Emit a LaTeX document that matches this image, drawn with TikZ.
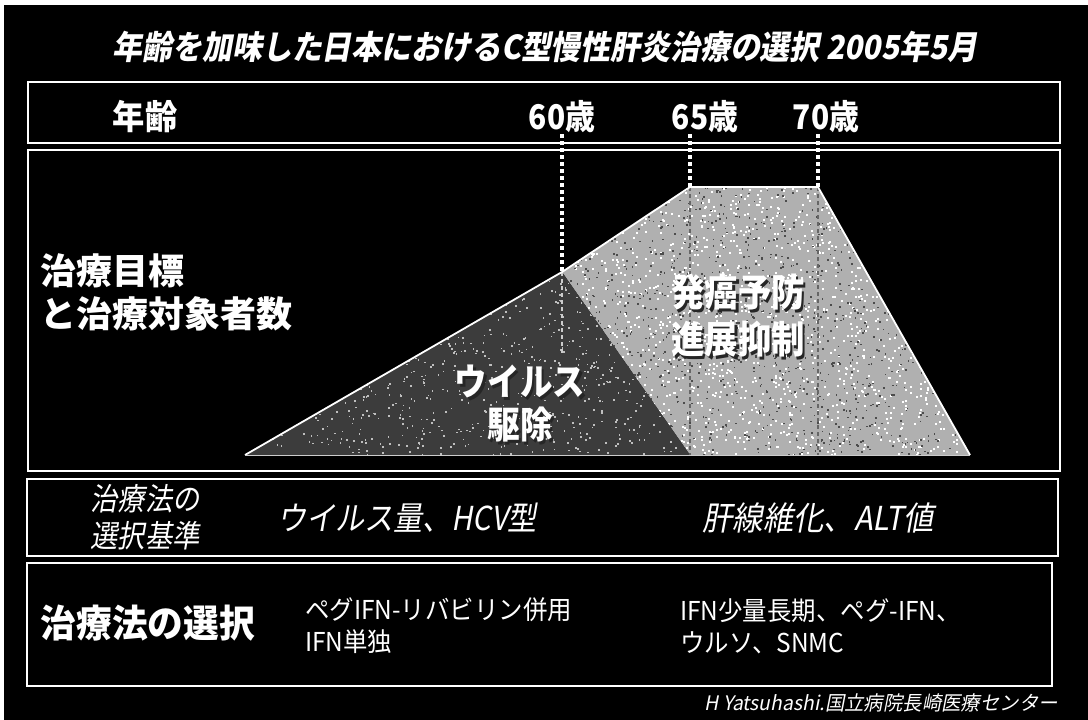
\documentclass[tikz,border=0pt]{standalone}
\usepackage{fontspec}
\newfontfamily\jp{Noto Sans CJK JP}
\newfontfamily\jpi[FakeSlant=0.2]{Noto Sans CJK JP}
\definecolor{lightfill}{RGB}{176,176,176}
\definecolor{darkfill}{RGB}{60,60,60}
\newcommand\shtx[1]{\leavevmode\rlap{\kern2.5pt\raisebox{-2.5pt}{\color{black!85}#1}}#1}
\newcommand\fs[1]{\fontsize{#1}{#1}\selectfont}
\newcommand\cond[2][0.88]{\scalebox{#1}[1]{#2}}
\begin{document}
\begin{tikzpicture}[x=1pt,y=-1pt,
  box/.style={draw=white, line width=1.6pt, inner sep=0pt},
  lbl/.style={text=white, inner sep=0pt, font=\jp},
  dotline/.style={draw=white, line width=3.4pt, dash pattern=on 3.5pt off 3.5pt},
  faintline/.style={draw=black!60, line width=2.4pt, dash pattern=on 3.5pt off 3.5pt},
  edge/.style={draw=white, line width=1.8pt, line join=round}]
\fill[white] (0,0) rectangle (1088,720);
\fill[black] (4,5) rectangle (1088,720);
\useasboundingbox (0,0) rectangle (1088,720);

% title
\node[lbl, font=\jpi\bfseries\fs{33}] (title) at (545,47) {\cond[0.905]{年齢を加味した日本におけるC型慢性肝炎治療の選択 2005年5月}};

% boxes
\node[box, minimum width=1032pt, minimum height=61pt] (agebox) at (544,112.5) {};
\node[box, minimum width=1032pt, minimum height=321pt] (goalbox) at (544,310.5) {};
\node[box, minimum width=1031pt, minimum height=77pt] (critbox) at (542.5,517.5) {};
\node[box, minimum width=1025pt, minimum height=123pt] (choicebox) at (539.5,624.5) {};

% age labels
\node[lbl, font=\jp\bfseries\fs{34}] (age) at (145,117) {\cond[0.95]{年齢}};
\node[lbl, font=\jp\bfseries\fs{34}] (l60) at (562,117) {\cond{60歳}};
\node[lbl, font=\jp\bfseries\fs{34}] (l65) at (705,117) {\cond{65歳}};
\node[lbl, font=\jp\bfseries\fs{34}] (l70) at (826,117) {\cond{70歳}};

% shape coordinates
\coordinate (A) at (245,455);
\coordinate (P60) at (562,272);
\coordinate (P65) at (690,187);
\coordinate (P70) at (818,187);
\coordinate (R) at (970,455);
\coordinate (M) at (690,455);
\coordinate (t60) at (562,134);
\coordinate (t65) at (690,134);
\coordinate (t70) at (818,134);
\coordinate (e60) at (562,355);
\coordinate (e70) at (818,455);

% light region with speckle
\fill[lightfill] (P60) -- (P65) -- (P70) -- (R) -- (M) -- cycle;
\begin{scope}
\clip (P60) -- (P65) -- (P70) -- (R) -- (M) -- cycle;
\pgfmathsetseed{7}
\foreach \i in {1,...,1600}{
  \pgfmathsetmacro\xx{560+410*rnd}
  \pgfmathsetmacro\yy{185+272*rnd}
  \fill[white] (\xx,\yy) rectangle +(2,2);
}
\foreach \i in {1,...,1300}{
  \pgfmathsetmacro\xx{560+410*rnd}
  \pgfmathsetmacro\yy{185+272*rnd}
  \fill[black!70] (\xx,\yy) rectangle +(1.6,1.6);
}
\end{scope}
% dark triangle with speckle
\fill[darkfill] (A) -- (P60) -- (M) -- cycle;
\begin{scope}
\clip (A) -- (P60) -- (M) -- cycle;
\foreach \i in {1,...,1000}{
  \pgfmathsetmacro\xx{245+445*rnd}
  \pgfmathsetmacro\yy{270+187*rnd}
  \fill[white!75!black] (\xx,\yy) rectangle +(1.6,1.6);
}
\end{scope}
% faint dotted continuations
\draw[faintline] (P65) -- (M);
\draw[faintline] (P70) -- (e70);
\draw[draw=black!20, line width=2.4pt, dash pattern=on 3.5pt off 3.5pt] (P60) -- (e60);
% edges
\draw[edge] (A) -- (P60) -- (P65) -- (P70) -- (R);
\draw[draw=white!80!black, line width=1pt] (A) -- (R);
% dotted age lines
\draw[dotline] (t60) -- (P60);
\draw[dotline] (t65) -- (P65);
\draw[dotline] (t70) -- (P70);

% goal labels
\node[lbl, font=\jp\bfseries\fs{36}, anchor=west, align=left] (goal) at (40,292) {治療目標\\[7pt]と治療対象者数};
\node[lbl, font=\jp\bfseries\fs{37}, align=center] (virus) at (520,405) {\shtx{\cond{ウイルス}}\\[6pt]\shtx{\cond{駆除}}};
\node[lbl, font=\jp\bfseries\fs{38}, align=center] (cancer) at (738,317) {\shtx{\cond{発癌予防}}\\[7pt]\shtx{\cond{進展抑制}}};

% criteria row
\node[lbl, font=\jpi\fs{31}, align=center] (crit) at (145,517) {\cond{治療法の}\\[6pt]\cond{選択基準}};
\node[lbl, font=\jpi\fs{33}] (crit1) at (407,518) {\cond{ウイルス量、HCV型}};
\node[lbl, font=\jpi\fs{33}] (crit2) at (818,518) {\cond[0.92]{肝線維化、ALT値}};

% choice row
\node[lbl, font=\jp\bfseries\fs{38}] (choice) at (148,623) {\cond[0.94]{治療法の選択}};
\node[lbl, font=\jp\fs{26}, anchor=west, align=left] (choice1) at (305,626) {\cond[0.94]{ペグIFN-リバビリン併用}\\[6pt]\cond[0.94]{IFN単独}};
\node[lbl, font=\jp\fs{26}, anchor=west, align=left] (choice2) at (680,626) {\cond[0.94]{IFN少量長期、ペグ-IFN、}\\[6pt]\cond[0.94]{ウルソ、SNMC}};

% footer
\node[lbl, font=\jpi\fs{20}, anchor=east] (footer) at (1058,703) {\cond[0.97]{H Yatsuhashi.国立病院長崎医療センター}};
\end{tikzpicture}
\end{document}
